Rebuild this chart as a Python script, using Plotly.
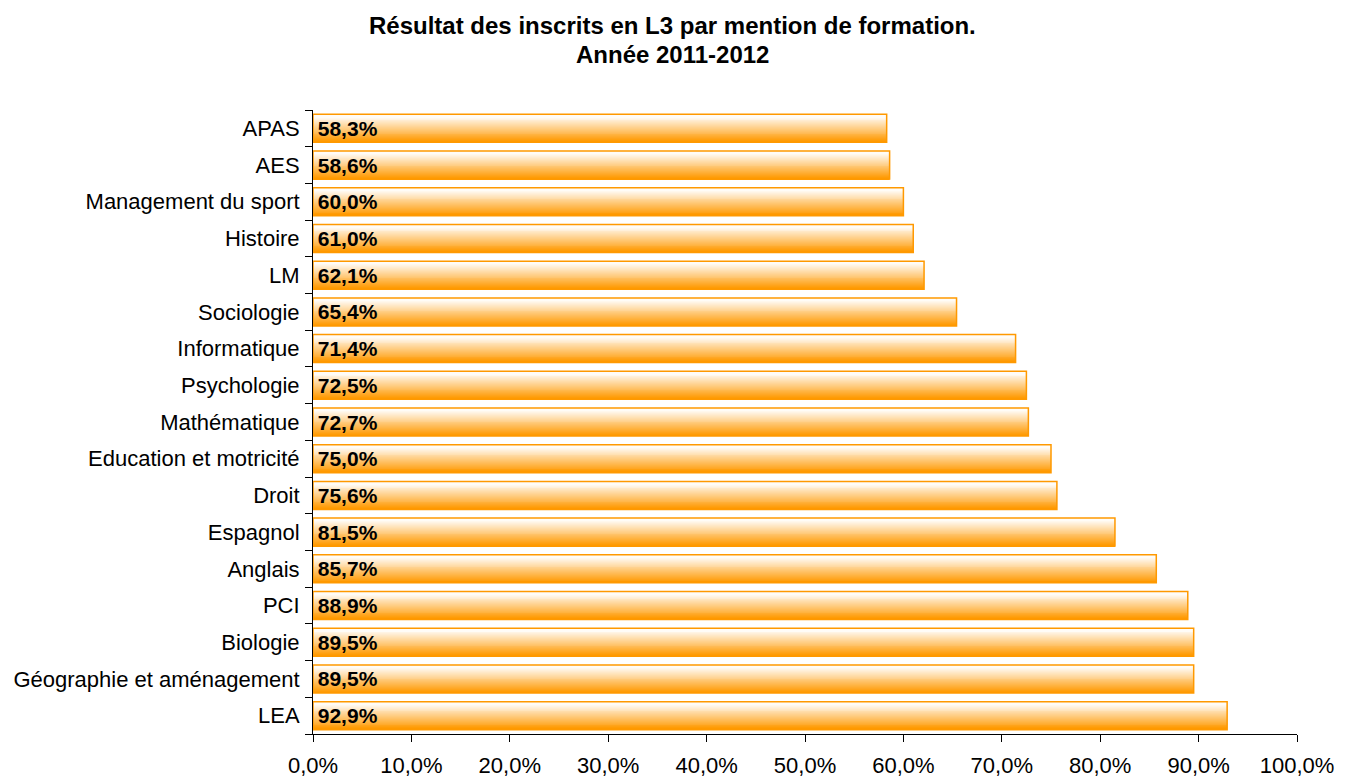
import plotly.graph_objects as go

categories = ["LEA", "Géographie et aménagement", "Biologie", "PCI", "Anglais", "Espagnol",
              "Droit", "Education et motricité", "Mathématique", "Psychologie", "Informatique",
              "Sociologie", "LM", "Histoire", "Management du sport", "AES", "APAS"]
values = [92.9, 89.5, 89.5, 88.9, 85.7, 81.5, 75.6, 75.0, 72.7, 72.5, 71.4, 65.4, 62.1, 61.0, 60.0, 58.6, 58.3]
tick_values = [0, 10, 20, 30, 40, 50, 60, 70, 80, 90, 100]
title_lines = ["Résultat des inscrits en L3 par mention de formation.", "Année 2011-2012"]

FONT = "Liberation Sans, Arial, sans-serif"
BAR_W = 0.763
N = 30
orange = (255, 153, 0)
white = (255, 252, 248)

fig = go.Figure()

def mix(t):
    # t: 0 at top, 1 at bottom
    s = min(max((t - 0.08) / 0.86, 0.0), 1.0)
    r = [round(white[k] + (orange[k] - white[k]) * s) for k in range(3)]
    return f"rgb({r[0]},{r[1]},{r[2]})"

sw = BAR_W / N
for i in range(N):
    off = -BAR_W / 2 + i * sw  # from bottom upward
    t_top = 1 - (i + 0.5) / N
    fig.add_trace(go.Bar(
        x=values, y=categories, orientation="h",
        offset=off, width=sw * 1.08,
        marker=dict(color=mix(t_top), line=dict(width=0)),
        hoverinfo="skip", showlegend=False))

# outline + labels
fig.add_trace(go.Bar(
    x=values, y=categories, orientation="h",
    offset=-BAR_W / 2, width=BAR_W,
    marker=dict(color="rgba(0,0,0,0)", line=dict(color="rgb(255,153,0)", width=1.5)),
    text=["\u200a" + f"{v:.1f}%".replace(".", ",") for v in values],
    textposition="inside", insidetextanchor="start", textangle=0,
    constraintext="none",
    textfont=dict(family=FONT, size=21, color="black", weight="bold"),
    showlegend=False))

annotations = []
for line, ypos in zip(title_lines, [1.135, 1.089]):
    annotations.append(dict(
        text=f"<b>{line}</b>", x=0.365, y=ypos, xref="paper", yref="paper",
        xanchor="center", yanchor="middle", showarrow=False,
        font=dict(size=24, family=FONT, color="black")))

fig.update_layout(
    barmode="overlay",
    width=1346, height=772,
    margin=dict(l=305, r=57, t=102, b=46, autoexpand=False),
    paper_bgcolor="white", plot_bgcolor="white",
    separators=",.",
    font=dict(family=FONT, color="black"),
    annotations=annotations,
    xaxis=dict(
        range=[0, 100], tickvals=tick_values,
        ticktext=[f"{v:.1f}%".replace(".", ",") for v in tick_values],
        showgrid=False, zeroline=False, showline=True, linecolor="black", linewidth=1,
        ticks="outside", ticklen=7, tickcolor="black", ticklabelstandoff=5,
        automargin=False,
        tickfont=dict(size=22, family=FONT, color="black")),
    yaxis=dict(
        categoryorder="array", categoryarray=categories,
        range=[-0.5, len(categories) - 0.5],
        showgrid=False, zeroline=False, showline=True, linecolor="black", linewidth=1,
        ticks="outside", ticklen=7, tickcolor="black", tickson="boundaries",
        ticklabelstandoff=8, automargin=False,
        tickfont=dict(size=22, family=FONT, color="black")),
)

fig.write_html("out.html")
